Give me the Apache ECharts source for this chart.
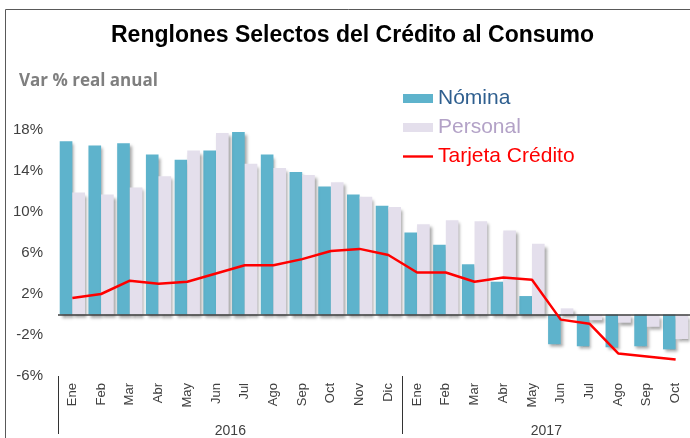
<!DOCTYPE html>
<html>
<head>
<meta charset="utf-8">
<script src="https://cdn.jsdelivr.net/npm/echarts@6.0.0/dist/echarts.min.js"></script>
<style>
  html, body { margin: 0; padding: 0; background: #fff; }
  #chart { width: 690px; height: 438px; }
</style>
</head>
<body>
<div id="chart"></div>
<script>
// Renglones selectos del crédito al consumo, var % real anual
const MONTHS = ["Ene", "Feb", "Mar", "Abr", "May", "Jun", "Jul", "Ago", "Sep", "Oct", "Nov", "Dic",
                "Ene", "Feb", "Mar", "Abr", "May", "Jun", "Jul", "Ago", "Sep", "Oct"];
const YEARS = ["2016", "2017"];
const NOMINA = [16.9, 16.5, 16.7, 15.6, 15.1, 16.0, 17.8, 15.6, 13.9, 12.5, 11.7, 10.6,
                8.0, 6.8, 4.9, 3.2, 1.8, -2.9, -3.1, -3.2, -3.1, -3.4];
const PERSONAL = [11.9, 11.7, 12.4, 13.5, 16.0, 17.7, 14.7, 14.3, 13.6, 12.9, 11.5, 10.5,
                  8.8, 9.2, 9.1, 8.2, 6.9, 0.6, -0.55, -0.8, -1.2, -2.4];
const TARJETA = [1.6, 2.0, 3.3, 3.0, 3.2, 4.0, 4.8, 4.8, 5.4, 6.2, 6.4, 5.8,
                 4.1, 4.1, 3.2, 3.6, 3.4, -0.5, -0.9, -3.8, -4.1, -4.4];

const FONT = "Liberation Sans, Arial, sans-serif";
const AXIS_TXT = "#404040";
const SHADOW = { shadowColor: "rgba(0,0,0,0.35)", shadowBlur: 3, shadowOffsetX: 2, shadowOffsetY: 3 };
// thin horizontal stroke for the line legend (extra moves keep the 30x9 box)
const LINE_ICON = "path://M0,0M0,3.3H30V5.7H0ZM30,9";

// year blocks: first month index of each year, label at the block centre
const yearStart = [0, 12];
const yearMid = [6, 17];

const chart = echarts.init(document.getElementById("chart"));
chart.setOption({
  animation: false,
  graphic: [
    {
      type: "rect",
      z: -10,
      shape: { x: 5.5, y: 9.5, width: 800, height: 500 },
      style: { fill: "none", stroke: "#595959", lineWidth: 1 },
    },
  ],
  title: [
    {
      text: "Renglones Selectos del Crédito al Consumo",
      left: 111,
      top: 24,
      padding: 0,
      textStyle: { fontFamily: FONT, fontSize: 23, fontWeight: "bold", color: "#000" },
    },
    {
      text: "Var % real anual",
      left: 14,
      top: 68,
      textStyle: { fontFamily: "Open Sans", fontSize: 17, fontWeight: "bold", color: "#7f7f7f" },
    },
  ],
  legend: {
    orient: "vertical",
    left: 403,
    top: 88,
    padding: 0,
    itemWidth: 30,
    itemHeight: 9,
    itemGap: 8,
    selectedMode: false,
    itemStyle: { shadowBlur: 0, shadowOffsetX: 0, shadowOffsetY: 0, shadowColor: "transparent" },
    textStyle: { fontFamily: FONT, fontSize: 21, lineHeight: 21 },
    data: [
      { name: "Nómina", icon: "rect", textStyle: { color: "#2f5f8f" } },
      { name: "Personal", icon: "rect", textStyle: { color: "#b3a2c7" } },
      { name: "Tarjeta Crédito", icon: LINE_ICON, textStyle: { color: "#ff0000" } },
    ],
  },
  grid: { left: 58, right: -6, top: 130, bottom: 58 },
  xAxis: [
    {
      type: "category",
      data: MONTHS,
      axisLine: { show: false },
      axisTick: { show: false },
      axisLabel: { rotate: 90, margin: 7, interval: 0, fontFamily: FONT, fontSize: 13, color: AXIS_TXT },
    },
    {
      type: "value",
      position: "bottom",
      min: 0,
      max: MONTHS.length,
      axisLine: { show: false },
      splitLine: { show: false },
      axisTick: { show: true, customValues: yearStart, length: 58, lineStyle: { color: "#333", width: 1 } },
      axisLabel: {
        customValues: yearMid,
        margin: 48,
        fontFamily: FONT,
        fontSize: 14,
        color: AXIS_TXT,
        formatter: (v) => YEARS[yearMid.indexOf(v)] || "",
      },
    },
  ],
  yAxis: {
    type: "value",
    min: -6,
    max: 18,
    interval: 4,
    axisLine: { show: false },
    axisTick: { show: false },
    splitLine: { show: false },
    axisLabel: { margin: 15, fontFamily: FONT, fontSize: 15, color: AXIS_TXT, formatter: "{value}%" },
  },
  series: [
    {
      name: "Nómina",
      type: "bar",
      barWidth: "44%",
      barGap: "0%",
      itemStyle: Object.assign({ color: "#5eb3cc" }, SHADOW),
      data: NOMINA,
    },
    {
      name: "Personal",
      type: "bar",
      barWidth: "44%",
      barGap: "0%",
      itemStyle: Object.assign({ color: "#e4dfec" }, SHADOW),
      data: PERSONAL,
      markLine: {
        silent: true,
        symbol: ["none", "none"],
        label: { show: false },
        lineStyle: { color: "#404040", width: 1.5, type: "solid" },
        data: [{ yAxis: 0 }],
      },
    },
    {
      name: "Tarjeta Crédito",
      type: "line",
      symbol: "none",
      lineStyle: { color: "#ff0000", width: 2.5 },
      itemStyle: { color: "#ff0000" },
      data: TARJETA,
      z: 5,
    },
  ],
});
</script>
</body>
</html>
